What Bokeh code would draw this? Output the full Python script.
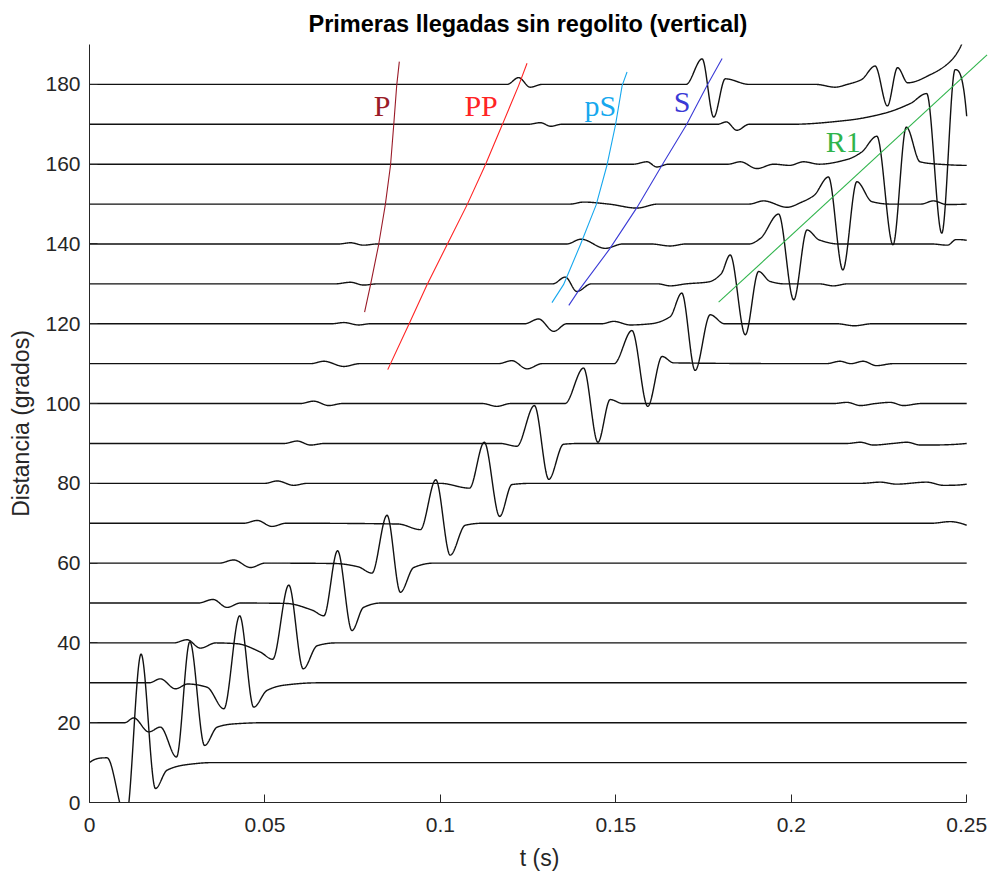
import numpy as np
from bokeh.plotting import figure
from bokeh.models import Range1d, FixedTicker, CustomJSTickFormatter, ColumnDataSource
from bokeh.embed import file_html
from bokeh.resources import INLINE
from bokeh.core.properties import value

# ---------------------------------------------------------------------------
# Seismogram traces: one per epicentral distance (degrees).
# Each trace is given by its turning points: time (s) and deflection
# (in degrees of the distance axis) relative to the trace baseline.
# ---------------------------------------------------------------------------
distances = [10, 20, 30, 40, 50, 60, 70, 80, 90, 100, 110, 120, 130, 140, 150, 160, 170, 180]

d10_t = [0.0, 0.0050, 0.0104, 0.0147, 0.0188, 0.0221, 0.0278, 0.0350, 0.25]
d10_a = [0.0, 1.2, -14.0, 27.2, -6.5, -1.9, -0.5, 0.0, 0.0]

d20_t = [0.0, 0.0100, 0.0126, 0.0169, 0.0202, 0.0248, 0.0286, 0.0328, 0.0364, 0.0411, 0.0500, 0.25]
d20_a = [0.0, 0.0, 1.2, -2.3, -1.1, -8.6, 20.3, -5.7, -1.1, -0.3, 0.0, 0.0]

d30_t = [0.0, 0.0170, 0.0202, 0.0245, 0.0280, 0.0335, 0.0383, 0.0428, 0.0468, 0.0506, 0.0554, 0.0650, 0.25]
d30_a = [0.0, 0.0, 1.0, -1.5, -0.3, -1.1, -6.5, 16.8, -6.1, -1.9, -0.6, 0.0, 0.0]

d40_t = [0.0, 0.0240, 0.0278, 0.0316, 0.0360, 0.0420, 0.0487, 0.0522, 0.0568, 0.0609, 0.0649, 0.0700, 0.25]
d40_a = [0.0, 0.0, 0.8, -1.3, 0.0, -0.2, -2.3, -4.1, 14.5, -6.5, -0.7, 0.0, 0.0]

d50_t = [0.0, 0.0310, 0.0352, 0.0392, 0.0430, 0.0560, 0.0635, 0.0668, 0.0707, 0.0748, 0.0781, 0.0830, 0.25]
d50_a = [0.0, 0.0, 0.9, -1.1, 0.0, -0.1, -1.8, -3.2, 13.1, -6.9, -1.1, 0.0, 0.0]

d60_t = [0.0, 0.0370, 0.0411, 0.0459, 0.0500, 0.0700, 0.0765, 0.0805, 0.0848, 0.0886, 0.0924, 0.0980, 0.25]
d60_a = [0.0, 0.0, 0.8, -1.1, 0.0, -0.1, -0.9, -2.5, 12.0, -7.3, -1.1, 0.0, 0.0]

d70_t = [0.0, 0.0440, 0.0478, 0.0520, 0.0560, 0.0880, 0.0943, 0.0987, 0.1028, 0.1071, 0.1120, 0.2400, 0.2453, 0.2500]
d70_a = [0.0, 0.0, 0.7, -0.8, 0.0, -0.2, -1.6, 10.9, -8.0, -0.5, 0.0, 0.0, 0.4, -0.5]

d80_t = [0.0, 0.0500, 0.0535, 0.0582, 0.0620, 0.1000, 0.1083, 0.1125, 0.1169, 0.1204, 0.1260,
         0.2200, 0.2254, 0.2300, 0.2386, 0.2434, 0.2500]
d80_a = [0.0, 0.0, 0.6, -0.5, 0.0, 0.0, -1.2, 10.3, -8.3, -0.3, 0.0,
         0.0, 0.3, -0.2, 0.3, -0.5, -0.2]

d90_t = [0.0, 0.0555, 0.0592, 0.0630, 0.0670, 0.1170, 0.1218, 0.1268, 0.1309, 0.1351, 0.1400,
         0.2160, 0.2197, 0.2234, 0.2290, 0.2330, 0.2368, 0.2500]
d90_a = [0.0, 0.0, 0.6, -0.4, 0.0, 0.0, -0.7, 9.5, -9.0, -0.2, 0.0,
         0.0, 0.3, -0.4, 0.0, 0.3, -0.4, 0.0]

d100_t = [0.0, 0.0600, 0.0639, 0.0682, 0.0720, 0.1120, 0.1161, 0.1200, 0.1355, 0.1408, 0.1449, 0.1484,
          0.1520, 0.2120, 0.2159, 0.2197, 0.2240, 0.2282, 0.2320, 0.2370, 0.2500]
d100_a = [0.0, 0.0, 0.6, -0.5, 0.0, 0.0, -0.7, 0.0, 0.0, 8.9, -9.7, 1.0,
          0.0, 0.0, 0.3, -0.5, 0.0, 0.3, -0.5, 0.0, 0.0]

d110_t = [0.0, 0.0630, 0.0668, 0.0725, 0.0770, 0.1165, 0.1204, 0.1247, 0.1290, 0.1495, 0.1546, 0.1591,
          0.1632, 0.1665, 0.2100, 0.2139, 0.2170, 0.2205, 0.2243, 0.2290, 0.2500]
d110_a = [0.0, 0.0, 0.6, -0.7, 0.0, 0.0, 0.75, -1.3, 0.0, 0.0, 8.3, -10.7,
          1.8, 0.2, 0.0, 0.6, 0.0, 0.6, -0.5, 0.0, 0.0]

d120_t = [0.0, 0.0690, 0.0725, 0.0767, 0.0800, 0.1240, 0.1280, 0.1323, 0.1360, 0.1460, 0.1494, 0.1541,
          0.1600, 0.1655, 0.1688, 0.1726, 0.1769, 0.1810, 0.2130, 0.2180, 0.2230, 0.2500]
d120_a = [0.0, 0.0, 0.3, -0.3, 0.0, 0.0, 1.2, -1.9, 0.0, 0.0, 0.6, -0.3,
          0.0, 1.8, 7.7, -11.7, 2.25, 0.0, 0.0, -0.5, 0.0, 0.0]

d130_t = [0.0, 0.0700, 0.0744, 0.0781, 0.0820, 0.1320, 0.1356, 0.1389, 0.1430, 0.1620, 0.1655, 0.1700,
          0.1765, 0.1800, 0.1826, 0.1869, 0.1907, 0.1940, 0.1980, 0.2080, 0.2120, 0.2160, 0.2500]
d130_a = [0.0, 0.0, 0.4, -0.3, 0.0, 0.0, 1.7, -1.9, 0.0, 0.0, -0.5, 0.0,
          0.5, 2.5, 7.25, -12.75, 3.1, 0.6, 0.0, 0.0, -0.5, 0.0, 0.0]

d140_t = [0.0, 0.0710, 0.0744, 0.0781, 0.0820, 0.1360, 0.1401, 0.1470, 0.1520, 0.1600, 0.1655, 0.1700,
          0.1880, 0.1912, 0.1964, 0.2007, 0.2045, 0.2080, 0.2135, 0.2400, 0.2445, 0.2470, 0.2500]
d140_a = [0.0, 0.0, 0.3, -0.3, 0.0, 0.0, 1.2, -1.1, 0.0, 0.0, -0.5, 0.0,
          0.0, 1.4, 7.5, -14.0, 3.5, 1.0, 0.0, 0.0, -0.3, 1.1, 0.9]

d150_t = [0.0, 0.1370, 0.1408, 0.1480, 0.1560, 0.1620, 0.1880, 0.1921, 0.1988, 0.2030, 0.2065, 0.2106,
          0.2147, 0.2187, 0.2230, 0.2280, 0.2370, 0.2405, 0.2443, 0.2500]
d150_a = [0.0, 0.0, 0.5, 0.0, -1.0, 0.0, 0.0, 0.8, -0.8, 0.5, 2.2, 6.8,
          -16.5, 5.6, 0.6, 0.0, 0.0, 0.8, -0.1, 0.0]

d160_t = [0.0, 0.1550, 0.1589, 0.1617, 0.1650, 0.1820, 0.1855, 0.1902, 0.1950, 0.1995, 0.2035, 0.2080,
          0.2160, 0.2200, 0.2244, 0.2290, 0.2328, 0.2367, 0.2420, 0.2500]
d160_a = [0.0, 0.0, 0.6, -0.7, 0.0, 0.0, 0.6, -1.1, 0.0, -0.3, 0.6, 0.0,
          1.2, 3.0, 7.0, -20.2, 9.3, 0.6, 0.0, -0.3]

d170_t = [0.0, 0.1250, 0.1285, 0.1315, 0.1345, 0.1790, 0.1815, 0.1845, 0.1880, 0.2000, 0.2160, 0.2263,
          0.2339, 0.2386, 0.2429, 0.2467, 0.2500]
d170_a = [0.0, 0.0, 0.4, -0.5, 0.0, 0.0, 0.6, -1.5, 0.0, 0.0, 1.0, 2.7,
          5.2, 7.7, -27.3, 13.7, 2.0]

d180_t = [0.0, 0.1190, 0.1223, 0.1256, 0.1290, 0.1700, 0.1746, 0.1779, 0.1812, 0.1880, 0.2070, 0.2125,
          0.2160, 0.2200, 0.2239, 0.2274, 0.2303, 0.2332, 0.2400, 0.2450, 0.2480, 0.2500]
d180_a = [0.0, 0.0, 1.7, -0.7, 0.0, 0.0, 6.4, -8.2, 1.4, 0.0, 0.0, -0.7,
          0.0, 1.2, 4.6, -5.4, 4.2, 0.4, 2.6, 5.5, 9.0, 14.0]

trace_times = [d10_t, d20_t, d30_t, d40_t, d50_t, d60_t, d70_t, d80_t, d90_t,
               d100_t, d110_t, d120_t, d130_t, d140_t, d150_t, d160_t, d170_t, d180_t]
trace_amps = [d10_a, d20_a, d30_a, d40_a, d50_a, d60_a, d70_a, d80_a, d90_a,
              d100_a, d110_a, d120_a, d130_a, d140_a, d150_a, d160_a, d170_a, d180_a]

# ---------------------------------------------------------------------------
# Picked arrival curves (time in s, distance in degrees)
# ---------------------------------------------------------------------------
p_t = [0.0784, 0.0801, 0.0824, 0.0843, 0.0858, 0.0867, 0.08755, 0.0883]
p_d = [122.9, 129.8, 139.8, 149.8, 159.8, 169.8, 179.7, 185.7]

pp_t = [0.0850, 0.0910, 0.0962, 0.1019, 0.1076, 0.1128, 0.1176, 0.1223, 0.1247]
pp_d = [108.5, 119.8, 129.8, 139.8, 149.8, 159.8, 169.8, 179.7, 185.3]

ps_t = [0.1318, 0.1351, 0.1399, 0.1444, 0.1475, 0.1499, 0.1518, 0.1532]
ps_d = [125.3, 129.8, 139.8, 149.8, 159.8, 169.8, 179.7, 183.1]

s_t = [0.1366, 0.1394, 0.1482, 0.1560, 0.1632, 0.1701, 0.1760, 0.1803]
s_d = [124.6, 128.3, 138.7, 149.1, 159.8, 169.8, 179.7, 186.5]

r1_t = [0.1793, 0.2558]
r1_d = [125.4, 187.4]

phase_names = ["P", "PP", "pS", "S", "R1"]
phase_label_t = [0.0834, 0.1116, 0.1456, 0.1689, 0.2148]
phase_label_d = [174.8, 174.8, 174.8, 175.6, 165.6]
phase_colors = ["#9a1b28", "#ff2424", "#17a8ee", "#3a3ad6", "#2fb44c"]

x_ticks = [0, 0.05, 0.1, 0.15, 0.2, 0.25]
y_ticks = [0, 20, 40, 60, 80, 100, 120, 140, 160, 180]


def pchip_curve(xk, yk, xs):
    """Shape-preserving cubic through the turning points."""
    xk = np.asarray(xk, float)
    yk = np.asarray(yk, float)
    h = np.diff(xk)
    d = np.diff(yk) / h
    n = len(xk)
    m = np.zeros(n)
    for k in range(1, n - 1):
        if d[k - 1] * d[k] > 0:
            w1 = 2 * h[k] + h[k - 1]
            w2 = h[k] + 2 * h[k - 1]
            m[k] = (w1 + w2) / (w1 / d[k - 1] + w2 / d[k])

    def end_slope(h0, h1, d0, d1):
        mm = ((2 * h0 + h1) * d0 - h0 * d1) / (h0 + h1)
        if np.sign(mm) != np.sign(d0):
            return 0.0
        if np.sign(d0) != np.sign(d1) and abs(mm) > abs(3 * d0):
            return 3 * d0
        return mm

    m[0] = end_slope(h[0], h[1], d[0], d[1])
    m[-1] = end_slope(h[-1], h[-2], d[-1], d[-2])
    idx = np.clip(np.searchsorted(xk, xs, side="right") - 1, 0, n - 2)
    hh = xk[idx + 1] - xk[idx]
    s = (xs - xk[idx]) / hh
    h00 = 2 * s**3 - 3 * s**2 + 1
    h10 = s**3 - 2 * s**2 + s
    h01 = -2 * s**3 + 3 * s**2
    h11 = s**3 - s**2
    return h00 * yk[idx] + h10 * hh * m[idx] + h01 * yk[idx + 1] + h11 * hh * m[idx + 1]


xs_list, ys_list = [], []
grid = np.linspace(0.0, 0.25, 2501)
for dist, tk, ak in zip(distances, trace_times, trace_amps):
    xs = np.union1d(grid, tk)
    xs_list.append(xs)
    ys_list.append(dist + pchip_curve(tk, ak, xs))

FONT = "Liberation Sans"
AX_COLOR = "#262626"

p = figure(width=991, height=873, output_backend="svg", toolbar_location=None,
           x_range=Range1d(0, 0.2565), y_range=Range1d(0, 190),
           min_border_left=89, min_border_right=2, min_border_top=44, min_border_bottom=70,
           title="Primeras llegadas sin regolito (vertical)")

p.outline_line_color = None
p.background_fill_color = "white"
p.border_fill_color = "white"
p.xgrid.visible = False
p.ygrid.visible = False

p.title.text_font = FONT
p.title.text_font_size = "23.5px"
p.title.text_font_style = "bold"
p.title.text_color = "#000000"
p.title.align = "left"
p.title.offset = 219
p.title.standoff = 16

for ax in (p.xaxis[0], p.yaxis[0]):
    ax.axis_line_color = AX_COLOR
    ax.axis_line_width = 1
    ax.major_tick_line_color = AX_COLOR
    ax.major_tick_in = 8
    ax.major_tick_out = 0
    ax.minor_tick_line_color = None
    ax.major_label_text_font = FONT
    ax.major_label_text_font_size = "21px"
    ax.major_label_text_color = AX_COLOR
    ax.axis_label_text_font = FONT
    ax.axis_label_text_font_size = "23px"
    ax.axis_label_text_font_style = "normal"
    ax.axis_label_text_color = AX_COLOR

p.xaxis.ticker = FixedTicker(ticks=x_ticks)
p.xaxis.formatter = CustomJSTickFormatter(code="return String(Number(tick.toFixed(4)));")
p.xaxis.bounds = (0, 0.25)
p.xaxis.axis_label = "t (s)"
p.xaxis.major_label_standoff = 15
p.xaxis.axis_label_standoff = 10

p.yaxis.ticker = FixedTicker(ticks=y_ticks)
p.yaxis.axis_label = "Distancia (grados)"
p.yaxis.major_label_standoff = 9
p.yaxis.axis_label_standoff = 8

# traces
p.multi_line(xs=xs_list, ys=ys_list, line_color="#111111", line_width=1.4)

# arrival curves
arrivals = [(p_t, p_d), (pp_t, pp_d), (ps_t, ps_d), (s_t, s_d), (r1_t, r1_d)]
for (tt, dd), col in zip(arrivals, phase_colors):
    p.line(tt, dd, line_color=col, line_width=1.1)

labels = ColumnDataSource(dict(x=phase_label_t, y=phase_label_d, text=phase_names, color=phase_colors))
p.text(x="x", y="y", text="text", source=labels, text_color="color",
       text_font=value("Liberation Serif"), text_font_size="30px",
       text_align="center", text_baseline="middle")

open("out.html", "w").write(file_html(p, INLINE))
